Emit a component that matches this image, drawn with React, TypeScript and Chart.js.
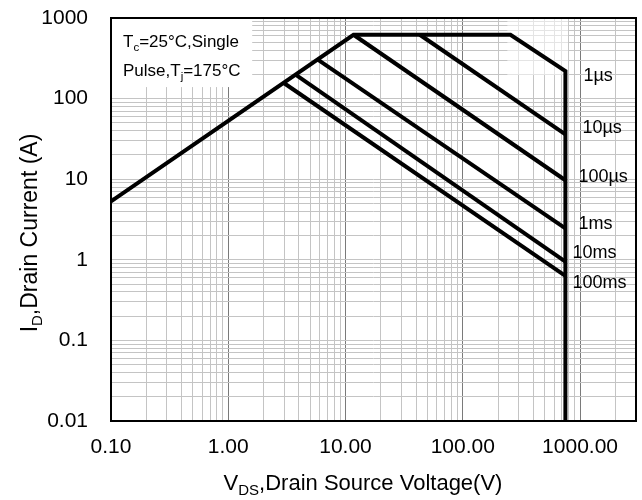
import React, { useEffect, useRef } from "react";
import { Chart, registerables } from "chart.js";

Chart.register(...registerables);

// ---------- data ----------
const xMin = 0.1;
const xMax = 3000;
const yMin = 0.01;
const yMax = 1000;

// outer limit (RDS(on) line, current limit, 1µs, breakdown)
const envelopeV = [0.1, 11.7, 255, 750, 750];
const envelopeI = [5.3, 620, 620, 220, 0.01];

const v10us = [43, 750];
const i10us = [620, 36];
const v100us = [11.7, 750];
const i100us = [620, 9.7];
const v1ms = [5.8, 750];
const i1ms = [305, 2.45];
const v10ms = [3.8, 750];
const i10ms = [195, 0.95];
const v100ms = [3.0, 750];
const i100ms = [155, 0.63];

const seriesLabels = ["1µs", "10µs", "100µs", "1ms", "10ms", "100ms"];

const xTickValues = [0.1, 1, 10, 100, 1000];
const xTickLabels = ["0.10", "1.00", "10.00", "100.00", "1000.00"];
const yTickValues = [0.01, 0.1, 1, 10, 100, 1000];
const yTickLabels = ["0.01", "0.1", "1", "10", "100", "1000"];

// ---------- helpers ----------
const FONT = '"Liberation Sans", Arial, Helvetica, sans-serif';

const zip = (xs: number[], ys: number[]) => xs.map((x, i) => ({ x, y: ys[i] }));

function logTicks(min: number, max: number): number[] {
  const out: number[] = [];
  const d0 = Math.floor(Math.log10(min) + 1e-9);
  const d1 = Math.ceil(Math.log10(max) - 1e-9);
  for (let d = d0; d <= d1; d++) {
    for (let m = 1; m <= 9; m++) {
      const v = Number((m * Math.pow(10, d)).toPrecision(6));
      if (v >= min * 0.999999 && v <= max * 1.000001) out.push(v);
    }
  }
  return out;
}

const isPow10 = (v: number) => Math.abs(Math.log10(v) - Math.round(Math.log10(v))) < 1e-6;

function labelFor(v: number, vals: number[], labels: string[]) {
  for (let i = 0; i < vals.length; i++) {
    if (Math.abs(Math.log10(v) - Math.log10(vals[i])) < 1e-6) return labels[i];
  }
  return "";
}

type Part = [string, boolean];
function drawParts(ctx: CanvasRenderingContext2D, parts: Part[], x: number, y: number, size: number, subSize: number, subDy: number, align: "left" | "center") {
  let total = 0;
  for (const [t, sub] of parts) {
    ctx.font = `${sub ? subSize : size}px ${FONT}`;
    total += ctx.measureText(t).width;
  }
  let cx = align === "center" ? x - total / 2 : x;
  ctx.textAlign = "left";
  ctx.textBaseline = "alphabetic";
  for (const [t, sub] of parts) {
    ctx.font = `${sub ? subSize : size}px ${FONT}`;
    ctx.fillText(t, cx, sub ? y + subDy : y);
    cx += ctx.measureText(t).width;
  }
}

const labelOffsets = [
  [18, 5],
  [17, -6],
  [13, -3],
  [13, -4],
  [7, -9],
  [7, 7],
];

const overlayPlugin = {
  id: "overlay",
  beforeDatasetsDraw(chart: any) {
    const { ctx, chartArea, scales } = chart;
    const x = scales.x;
    const y = scales.y;
    ctx.save();
    // faded patch near the top right
    const fx1 = x.getPixelForValue(240);
    const fx2 = x.getPixelForValue(790);
    const fy2 = y.getPixelForValue(196);
    ctx.fillStyle = "rgba(255,255,255,0.55)";
    ctx.fillRect(fx1, chartArea.top, fx2 - fx1, fy2 - chartArea.top);
    // legend box
    const lx2 = x.getPixelForValue(1.6);
    const ly2 = y.getPixelForValue(139);
    ctx.fillStyle = "#ffffff";
    ctx.fillRect(chartArea.left, chartArea.top, lx2 - chartArea.left, ly2 - chartArea.top);
    ctx.restore();
  },
  afterDatasetsDraw(chart: any) {
    const { ctx, chartArea } = chart;
    ctx.save();
    ctx.strokeStyle = "#000";
    ctx.lineWidth = 2;
    ctx.strokeRect(chartArea.left, chartArea.top, chartArea.right - chartArea.left, chartArea.bottom - chartArea.top);
    ctx.fillStyle = "#000";
    const lx = chartArea.left + 12;
    drawParts(ctx, [["T", false], ["c", true], ["=25°C,Single", false]], lx, chartArea.top + 29, 17, 11.5, 4, "left");
    drawParts(ctx, [["Pulse,T", false], ["j", true], ["=175°C", false]], lx, chartArea.top + 58, 17, 11.5, 4, "left");
    ctx.restore();
  },
  afterDraw(chart: any) {
    const { ctx, scales } = chart;
    const x = scales.x;
    const y = scales.y;
    ctx.save();
    ctx.fillStyle = "#000";
    // series labels next to the end of each line
    const ends = [
      { v: envelopeV[3], i: envelopeI[3] },
      { v: v10us[1], i: i10us[1] },
      { v: v100us[1], i: i100us[1] },
      { v: v1ms[1], i: i1ms[1] },
      { v: v10ms[1], i: i10ms[1] },
      { v: v100ms[1], i: i100ms[1] },
    ];
    ctx.font = `18px ${FONT}`;
    ctx.textAlign = "left";
    ctx.textBaseline = "middle";
    ends.forEach((e, k) => {
      const px = x.getPixelForValue(e.v) + labelOffsets[k][0];
      const py = y.getPixelForValue(e.i) + labelOffsets[k][1];
      ctx.fillText(seriesLabels[k], px, py);
    });
    // x axis title
    drawParts(ctx, [["V", false], ["DS", true], [",Drain Source Voltage(V)", false]], 363, 490, 22, 15, 5, "center");
    // y axis title (rotated)
    ctx.translate(37, 233);
    ctx.rotate(-Math.PI / 2);
    drawParts(ctx, [["I", false], ["D", true], [",Drain Current (A)", false]], 0, 0, 23, 15, 5, "center");
    ctx.restore();
  },
};

export default function App() {
  const ref = useRef<HTMLCanvasElement | null>(null);

  useEffect(() => {
    document.body.style.margin = "0";
    const canvas = ref.current;
    if (!canvas) return;

    const lineStyle = {
      borderColor: "#000000",
      backgroundColor: "#000000",
      borderWidth: 4,
      pointRadius: 0,
      fill: false,
      tension: 0,
      borderJoinStyle: "miter" as const,
    };

    const chart = new Chart(canvas, {
      type: "line",
      data: {
        datasets: [
          { label: "1µs", data: zip(envelopeV, envelopeI), ...lineStyle },
          { label: "10µs", data: zip(v10us, i10us), ...lineStyle },
          { label: "100µs", data: zip(v100us, i100us), ...lineStyle },
          { label: "1ms", data: zip(v1ms, i1ms), ...lineStyle },
          { label: "10ms", data: zip(v10ms, i10ms), ...lineStyle },
          { label: "100ms", data: zip(v100ms, i100ms), ...lineStyle },
        ],
      },
      options: {
        animation: false,
        responsive: false,
        devicePixelRatio: 1,
        layout: { padding: { top: 18, right: 6, left: 0, bottom: 0 } },
        plugins: {
          legend: { display: false },
          tooltip: { enabled: false },
        },
        scales: {
          x: {
            type: "logarithmic",
            min: xMin,
            max: xMax,
            afterBuildTicks: (scale: any) => {
              scale.ticks = logTicks(xMin, xMax).map((v) => ({ value: v }));
            },
            afterFit: (scale: any) => {
              scale.height = 79;
              scale.paddingLeft = 0;
              scale.paddingRight = 0;
              scale.paddingTop = 0;
              scale.paddingBottom = 0;
            },
            grid: {
              drawTicks: false,
              lineWidth: 1,
              color: (c: any) => (c.tick && isPow10(c.tick.value) ? "#7a7a7a" : "#c4c4c4"),
            },
            border: { display: false },
            ticks: {
              autoSkip: false,
              maxRotation: 0,
              padding: 14,
              color: "#000",
              font: { family: FONT, size: 21 },
              major: { enabled: false },
              callback: (v: any) => labelFor(Number(v), xTickValues, xTickLabels),
            },
          },
          y: {
            type: "logarithmic",
            min: yMin,
            max: yMax,
            afterBuildTicks: (scale: any) => {
              scale.ticks = logTicks(yMin, yMax).map((v) => ({ value: v }));
            },
            afterFit: (scale: any) => {
              scale.width = 111;
              scale.paddingLeft = 0;
              scale.paddingRight = 0;
              scale.paddingTop = 0;
              scale.paddingBottom = 0;
            },
            grid: {
              drawTicks: false,
              lineWidth: 1,
              color: "#c4c4c4",
            },
            border: { display: false },
            ticks: {
              autoSkip: false,
              padding: 23,
              color: "#000",
              font: { family: FONT, size: 21 },
              major: { enabled: false },
              callback: (v: any) => labelFor(Number(v), yTickValues, yTickLabels),
            },
          },
        },
      },
      plugins: [overlayPlugin],
    } as any);

    return () => chart.destroy();
  }, []);

  return (
    <div style={{ width: 642, height: 500 }}>
      <canvas ref={ref} width={642} height={500} style={{ display: "block", width: 642, height: 500 }} />
    </div>
  );
}
